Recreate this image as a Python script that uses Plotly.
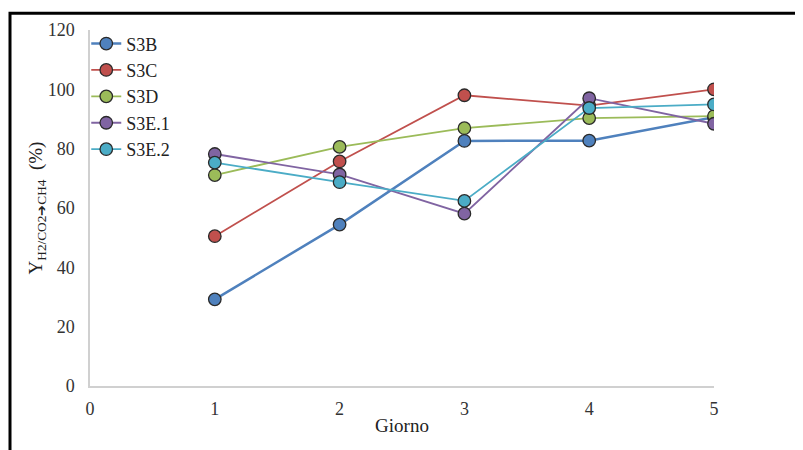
import plotly.graph_objects as go

giorni = [1, 2, 3, 4, 5]
s3b = [29.2, 54.4, 82.6, 82.7, 90.6]
s3c = [50.5, 75.7, 98.0, 94.5, 100.0]
s3d = [71.1, 80.6, 86.9, 90.3, 91.0]
s3e1 = [78.2, 71.3, 58.1, 97.0, 88.4]
s3e2 = [75.3, 68.7, 62.4, 93.7, 94.9]

series = [
    ("S3B", s3b, "#4F81BD", 2.5),
    ("S3C", s3c, "#C0504D", 1.8),
    ("S3D", s3d, "#9BBB59", 1.8),
    ("S3E.1", s3e1, "#8064A2", 1.8),
    ("S3E.2", s3e2, "#4BACC6", 1.8),
]

font = "Times New Roman"
fig = go.Figure()
for name, vals, col, w in series:
    fig.add_trace(go.Scatter(
        x=giorni, y=vals, name=name, mode="lines+markers",
        line=dict(color=col, width=w),
        marker=dict(color=col, size=12.5, line=dict(color="#2a2a2a", width=1.3)),
    ))

OFF = 8  # page body margin
W, H = 803 - OFF, 450 - OFF
L, T = 90 - OFF, 27 - OFF
pw, ph = 624, 359
R, B = W - L - pw, H - T - ph

fig.update_layout(
    width=W, height=H,
    margin=dict(l=L, r=R, t=T, b=B),
    paper_bgcolor="white", plot_bgcolor="white",
    font=dict(family=font, size=18, color="#333333"),
    showlegend=True,
    legend=dict(x=-0.006, y=1.013, xanchor="left", yanchor="top",
                bgcolor="rgba(0,0,0,0)", font=dict(family=font, size=18, color="#222"),
                tracegroupgap=0, itemwidth=30),
    xaxis=dict(range=[0, 5], tickvals=[0, 1, 2, 3, 4, 5], showgrid=False,
               zeroline=False, showline=True, linecolor="#d0d0d0", linewidth=1.5,
               ticks="", ticklabelstandoff=6,
               tickfont=dict(family=font, size=18, color="#333"),
               title=dict(text="Giorno", font=dict(family=font, size=19, color="#222"), standoff=0)),
    yaxis=dict(range=[0, 120], tickvals=[0, 20, 40, 60, 80, 100, 120], showgrid=False,
               zeroline=False, showline=True, linecolor="#d0d0d0", linewidth=1.5,
               ticks="", ticklabelstandoff=10,
               tickfont=dict(family=font, size=18, color="#333"),
               title=dict(text="Y<sub>H2/CO2\u2794CH4</sub>  (%)",
                          font=dict(family=font, size=19, color="#222"), standoff=0)),
    shapes=[dict(type="rect", xref="paper", yref="paper",
                 x0=(10 - OFF - L) / pw, x1=(W + 20 - L) / pw,
                 y0=(T + ph - (H + 20)) / ph, y1=(T + ph - (10 - OFF)) / ph,
                 line=dict(color="black", width=3), fillcolor="rgba(0,0,0,0)", layer="above")],
)

fig.write_html("out.html")
